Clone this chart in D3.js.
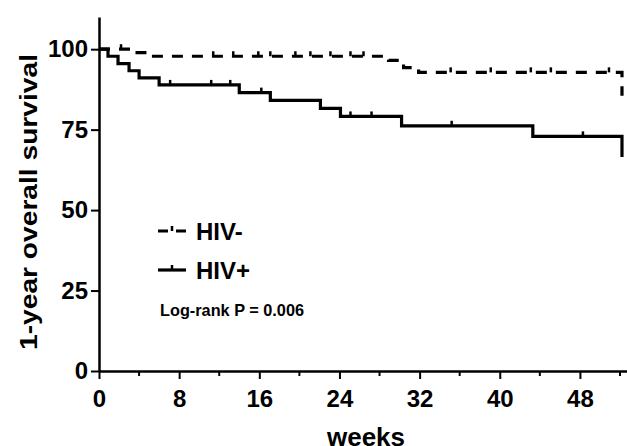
<!DOCTYPE html>
<html>
<head>
<meta charset="utf-8">
<script src="https://cdn.jsdelivr.net/npm/d3@7"></script>
<style>
  body { margin: 0; background: #fff; }
  text { font-family: "Liberation Sans", Arial, sans-serif; font-weight: bold; fill: #000; }
</style>
</head>
<body>
<div id="chart"></div>
<script>
// Kaplan-Meier steps (weeks, % surviving)
const hivPosTimes = [0, 0.9, 1.9, 3.0, 4.0, 6.0, 14.0, 17.1, 22.1, 24.1, 30.2, 43.3, 52.2];
const hivPosSurv  = [100, 97.8, 95.5, 93.3, 91.1, 88.9, 86.5, 84.1, 81.6, 79.1, 76.2, 72.9, 66.5];
const hivPosCensor = [7.1, 11.2, 13.1, 16.2, 25.1, 27.2, 35.2, 48.3];

const hivNegTimes = [0, 3.8, 4.8, 28.9, 30.4, 31.9, 52.2];
const hivNegSurv  = [100, 98.9, 97.8, 96.5, 94.3, 92.8, 85.5];
const hivNegCensor = [2.2, 11.4, 13.4, 15.9, 17.1, 19.6, 21.1, 23.1, 25.1, 26.4, 35.1, 39.1, 43.1, 45.1, 50.9];

const xTicks = [0, 8, 16, 24, 32, 40, 48];
const xMinor = [4, 12, 20, 28, 36, 44, 52];
const yTicks = [0, 25, 50, 75, 100];

const width = 627, height = 446;

const svg = d3.select("#chart")
    .append("svg")
    .attr("width", width)
    .attr("height", height);

const x = d3.scaleLinear().domain([0, 52.8]).range([99, 628]);
const y = d3.scaleLinear().domain([0, 110]).range([371, 17]);

function steps(times, surv, censor) {
    const pts = times.map((t, i) => [t, surv[i]]);
    const cens = censor.map(c => {
        let s = surv[0];
        times.forEach((t, i) => { if (t <= c) s = surv[i]; });
        return [c, s];
    });
    return { pts, cens };
}

const line = d3.line()
    .x(d => x(d[0]))
    .y(d => y(d[1]))
    .curve(d3.curveStepAfter);

const neg = steps(hivNegTimes, hivNegSurv, hivNegCensor);
const pos = steps(hivPosTimes, hivPosSurv, hivPosCensor);

// HIV- dashed
svg.append("path")
    .attr("d", line(neg.pts))
    .attr("fill", "none")
    .attr("stroke", "#000")
    .attr("stroke-width", 3.2)
    .attr("stroke-dasharray", "11,9");

svg.append("g").selectAll("line")
    .data(neg.cens)
    .enter().append("line")
    .attr("x1", d => x(d[0])).attr("x2", d => x(d[0]))
    .attr("y1", d => y(d[1])).attr("y2", d => y(d[1]) - 5)
    .attr("stroke", "#000").attr("stroke-width", 2.5);

// HIV+ solid
svg.append("path")
    .attr("d", line(pos.pts))
    .attr("fill", "none")
    .attr("stroke", "#000")
    .attr("stroke-width", 3.2);

svg.append("g").selectAll("line")
    .data(pos.cens)
    .enter().append("line")
    .attr("x1", d => x(d[0])).attr("x2", d => x(d[0]))
    .attr("y1", d => y(d[1])).attr("y2", d => y(d[1]) - 5)
    .attr("stroke", "#000").attr("stroke-width", 2.5);

// axes
const gx = svg.append("g")
    .attr("transform", `translate(0,${y(0)})`)
    .call(d3.axisBottom(x).tickValues(xTicks).tickSize(8).tickSizeOuter(0).tickPadding(11));
gx.append("g").selectAll("line")
    .data(xMinor)
    .enter().append("line")
    .attr("x1", d => x(d)).attr("x2", d => x(d))
    .attr("y1", 0).attr("y2", 5)
    .attr("stroke", "#000").attr("stroke-width", 2);

const gy = svg.append("g")
    .attr("transform", `translate(${x(0)},0)`)
    .call(d3.axisLeft(y).tickValues(yTicks).tickSize(8).tickSizeOuter(0).tickPadding(3));

[gx, gy].forEach(g => {
    g.select(".domain").attr("stroke-width", 2.5);
    g.selectAll(".tick line").attr("stroke-width", 2);
    g.selectAll(".tick text").style("font-size", "24px").style("font-family", "Liberation Sans, Arial, sans-serif").style("font-weight", "bold");
});

svg.append("text")
    .attr("x", 366).attr("y", 446)
    .attr("text-anchor", "middle")
    .style("font-size", "26px")
    .text("weeks");

svg.append("text")
    .attr("transform", `translate(37,202) rotate(-90)`)
    .attr("text-anchor", "middle")
    .attr("textLength", 296)
    .attr("lengthAdjust", "spacingAndGlyphs")
    .style("font-size", "23px")
    .text("1-year overall survival");

// legend
const lg = svg.append("g");
lg.append("line").attr("x1", 158).attr("x2", 186).attr("y1", 231).attr("y2", 231)
    .attr("stroke", "#000").attr("stroke-width", 3.2).attr("stroke-dasharray", "10,8");
lg.append("line").attr("x1", 172).attr("x2", 172).attr("y1", 231).attr("y2", 226)
    .attr("stroke", "#000").attr("stroke-width", 2.5);
lg.append("text").attr("x", 196).attr("y", 240).style("font-size", "24px").text("HIV-");

lg.append("line").attr("x1", 158).attr("x2", 186).attr("y1", 270).attr("y2", 270)
    .attr("stroke", "#000").attr("stroke-width", 3.2);
lg.append("line").attr("x1", 172).attr("x2", 172).attr("y1", 270).attr("y2", 265)
    .attr("stroke", "#000").attr("stroke-width", 2.5);
lg.append("text").attr("x", 196).attr("y", 279).style("font-size", "24px").text("HIV+");

lg.append("text").attr("x", 160).attr("y", 316).style("font-size", "16.3px").text("Log-rank P = 0.006");
</script>
</body>
</html>
